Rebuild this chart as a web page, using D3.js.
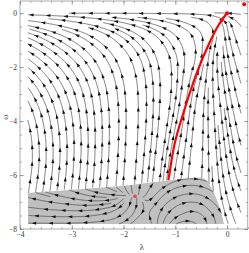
<!DOCTYPE html>
<html>
<head>
<meta charset="utf-8">
<script src="https://cdn.jsdelivr.net/npm/d3@7"></script>
<style>
  body { margin: 0; background: #fff; }
  svg { display: block; }
</style>
</head>
<body>
<div id="chart"></div>
<script>
// frame ranges and tick labels
const xDomain = [-4, 0.4];
const yDomain = [-8, 0.45];
const xMajor = [-4, -3, -2, -1, 0];
const yMajor = [0, -2, -4, -6, -8];

// region covered by the stream lines
const streamLam = [-3.85, 0.27];
const streamOm = [-7.82, 0.01];

// direction field: arrow angle as seen on the plot
// (degrees, 0 = right, 90 = up, 180 = left)
const fieldCols = [-3.85, -3.3, -2.8, -2.3, -1.8, -1.4, -1.0, -0.6, -0.3, 0, 0.3];
const fieldRows = [0, -0.5, -1, -2, -3, -4, -5, -6, -7, -7.8];
const fieldAngles = [
  [180, 180, 180, 180, 180, 180, 180, 180, 180, 178, 175],
  [168, 167, 166, 164, 162, 160, 157, 150, 120, 100, 125],
  [155, 152, 148, 143, 138, 133, 125, 105, 70, 100, 112],
  [140, 133, 124, 114, 106, 100, 92, 70, 88, 100, 108],
  [122, 114, 105, 98, 93, 90, 84, 78, 92, 100, 106],
  [105, 100, 95, 91, 89, 87, 78, 86, 92, 98, 105],
  [93, 91, 89, 88, 87, 84, 79, 86, 92, 98, 106],
  [82, 84, 85, 86, 86, 84, 82, 86, 92, 100, 110],
  [80, 82, 84, 85, 86, 84, 82, 88, 95, 105, 112],
  [80, 82, 84, 85, 86, 84, 82, 90, 98, 108, 114]
];

// direction field inside the shaded region
const grayCols = [-3.85, -3.3, -2.8, -2.3, -1.8, -1.3, -0.8, -0.4, 0];
const grayRows = [-6, -6.5, -7, -7.4, -7.82];
const grayAngles = [
  [150, 150, 148, 140, 95, 35, 6, 343, 300],
  [160, 160, 158, 163, 92, 40, 8, 338, 300],
  [168, 172, 175, 188, 265, 52, 12, 327, 303],
  [175, 178, 182, 195, 240, 66, 20, 311, 290],
  [180, 180, 182, 188, 215, 85, 0, 280, 274]
];

// outline of the shaded region
const grayLam = [-3.846, -2.030, -1.142, -0.620, -0.504, -0.427, -0.369, -0.292, -0.195, -0.118, -0.060, -3.846];
const grayOm = [-6.667, -6.408, -6.205, -6.112, -6.093, -6.149, -6.260, -6.520, -6.927, -7.354, -7.817, -7.817];

// highlighted trajectory
const redLam = [-1.134, -1.088, -1.024, -0.947, -0.767, -0.574, -0.348, -0.155, 0];
const redOm = [-6.19, -5.63, -4.89, -4.33, -3.22, -2.11, -1.11, -0.37, 0];

// marked points
const pointLam = [0, 0.33, -1.78];
const pointOm = [0, 0.33, -6.79];

const W = 249, H = 253;
const svg = d3.select("#chart").append("svg").attr("width", W).attr("height", H);

const x = d3.scaleLinear().domain(xDomain).range([20, 247.8]);
const y = d3.scaleLinear().domain(yDomain).range([229, 1]);

// bilinear interpolation of the angle table
function makeField(cols, rows, table) {
  return function(lam, om) {
    let i = d3.bisectRight(cols, lam) - 1;
    i = Math.max(0, Math.min(cols.length - 2, i));
    let j = 0;
    while (j < rows.length - 2 && om < rows[j + 1]) j++;
    const tx = Math.max(0, Math.min(1, (lam - cols[i]) / (cols[i + 1] - cols[i])));
    const ty = Math.max(0, Math.min(1, (om - rows[j]) / (rows[j + 1] - rows[j])));
    let u = 0, v = 0;
    [[j, i, (1 - tx) * (1 - ty)], [j, i + 1, tx * (1 - ty)], [j + 1, i, (1 - tx) * ty], [j + 1, i + 1, tx * ty]]
      .forEach(function(c) {
        const a = table[c[0]][c[1]] * Math.PI / 180;
        u += c[2] * Math.cos(a);
        v += c[2] * Math.sin(a);
      });
    return [u, v];
  };
}

function dirAt(field, p) {
  const f = field(x.invert(p[0]), y.invert(p[1]));
  const m = Math.hypot(f[0], f[1]);
  if (m < 0.2) return null;
  return [f[0] / m, -f[1] / m];
}

// evenly spaced stream lines
function streams(field, inside, dsep, dtest) {
  const grid = new Map();
  const key = (a, b) => a + "," + b;
  function near(p, d) {
    const cx = Math.floor(p[0] / dsep), cy = Math.floor(p[1] / dsep);
    for (let a = -1; a <= 1; a++) for (let b = -1; b <= 1; b++) {
      const list = grid.get(key(cx + a, cy + b));
      if (!list) continue;
      for (const q of list) if ((q[0] - p[0]) ** 2 + (q[1] - p[1]) ** 2 < d * d) return true;
    }
    return false;
  }
  function add(p) {
    const k = key(Math.floor(p[0] / dsep), Math.floor(p[1] / dsep));
    if (!grid.has(k)) grid.set(k, []);
    grid.get(k).push(p);
  }
  const h = 0.8;
  function advance(p, s) {
    const d1 = dirAt(field, p);
    if (!d1) return null;
    const m = [p[0] + 0.5 * h * s * d1[0], p[1] + 0.5 * h * s * d1[1]];
    const d2 = dirAt(field, m);
    if (!d2) return null;
    return [[p[0] + h * s * d2[0], p[1] + h * s * d2[1]], d2];
  }
  function run(seed, s) {
    const out = [];
    let p = seed, prev = null;
    for (let k = 0; k < 600; k++) {
      const r = advance(p, s);
      if (!r) break;
      if (prev && prev[0] * r[1][0] + prev[1] * r[1][1] < 0.6) break;
      if (!inside(r[0]) || near(r[0], dtest)) break;
      out.push(r[0]);
      p = r[0];
      prev = r[1];
    }
    return out;
  }
  const lines = [];
  function tryLine(seed) {
    if (!inside(seed) || near(seed, dsep)) return null;
    const f = run(seed, 1), b = run(seed, -1);
    const pts = b.reverse().concat([seed], f);
    if (pts.length * h < 9) return null;
    pts.forEach(add);
    lines.push(pts);
    return pts;
  }
  const queue = [];
  function spawn(pts) {
    for (let k = 1; k < pts.length - 1; k += 3) {
      const tx = pts[k + 1][0] - pts[k - 1][0], ty = pts[k + 1][1] - pts[k - 1][1];
      const m = Math.hypot(tx, ty) || 1;
      const nx = -ty / m, ny = tx / m;
      queue.push([pts[k][0] + dsep * nx, pts[k][1] + dsep * ny]);
      queue.push([pts[k][0] - dsep * nx, pts[k][1] - dsep * ny]);
    }
  }
  for (let py = y(streamOm[1]) + 2; py < y(streamOm[0]); py += dsep) {
    for (let px = x(streamLam[0]) + 2; px < x(streamLam[1]); px += dsep) {
      const l = tryLine([px, py]);
      if (l) spawn(l);
      while (queue.length) {
        const c = queue.shift();
        const l2 = tryLine(c);
        if (l2) spawn(l2);
      }
    }
  }
  return lines;
}

const grayPoly = grayLam.map((l, i) => [x(l), y(grayOm[i])]);
const outerInside = p => p[0] >= x(streamLam[0]) && p[0] <= x(streamLam[1]) &&
  p[1] >= y(streamOm[1]) && p[1] <= y(streamOm[0]) && !d3.polygonContains(grayPoly, p);
const grayInside = p => d3.polygonContains(grayPoly, p);

// shaded region
svg.append("path")
  .attr("d", d3.line()(grayPoly) + "Z")
  .attr("fill", "#c0c0c0");

const outerLines = streams(makeField(fieldCols, fieldRows, fieldAngles), outerInside, 7, 3.2);
const grayLines = streams(makeField(grayCols, grayRows, grayAngles), grayInside, 6.5, 3);
const allLines = outerLines.concat(grayLines);

const lineGen = d3.line().curve(d3.curveBasis);
svg.append("g")
  .selectAll("path")
  .data(allLines)
  .join("path")
  .attr("d", d => lineGen(d))
  .attr("fill", "none")
  .attr("stroke", "#444")
  .attr("stroke-width", 0.7);

function arrowHead(p, t, len, half) {
  const n = [-t[1], t[0]];
  const tip = [p[0] + t[0] * len * 0.5, p[1] + t[1] * len * 0.5];
  const bx = p[0] - t[0] * len * 0.5, by = p[1] - t[1] * len * 0.5;
  return "M" + tip + "L" + [bx + n[0] * half, by + n[1] * half] + "L" + [bx - n[0] * half, by - n[1] * half] + "Z";
}

// arrowheads along each line
const arrows = [];
allLines.forEach(function(pts, li) {
  const spacing = 17;
  let next = 6 + (li * 7) % 11, acc = 0;
  for (let k = 1; k < pts.length - 2; k++) {
    acc += Math.hypot(pts[k][0] - pts[k - 1][0], pts[k][1] - pts[k - 1][1]);
    if (acc >= next) {
      const tx = pts[k + 1][0] - pts[k - 1][0], ty = pts[k + 1][1] - pts[k - 1][1];
      const m = Math.hypot(tx, ty) || 1;
      arrows.push(arrowHead(pts[k], [tx / m, ty / m], 4.4, 1.5));
      next += spacing;
    }
  }
});
svg.append("g")
  .selectAll("path")
  .data(arrows)
  .join("path")
  .attr("d", d => d)
  .attr("fill", "#111");

// highlighted trajectory
const redPts = redLam.map((l, i) => [x(l), y(redOm[i])]);
svg.append("path")
  .attr("d", d3.line().curve(d3.curveBasis)(redPts))
  .attr("fill", "none")
  .attr("stroke", "#ff0000")
  .attr("stroke-width", 2.2);
{
  const a = redPts[redPts.length - 2], b = redPts[redPts.length - 1];
  const m = Math.hypot(b[0] - a[0], b[1] - a[1]);
  const p = [a[0] + (b[0] - a[0]) * 0.45, a[1] + (b[1] - a[1]) * 0.45];
  svg.append("path")
    .attr("d", arrowHead(p, [(b[0] - a[0]) / m, (b[1] - a[1]) / m], 6, 2.4))
    .attr("fill", "#ff0000");
}

svg.append("g")
  .selectAll("circle")
  .data(pointLam)
  .join("circle")
  .attr("cx", d => x(d))
  .attr("cy", (d, i) => y(pointOm[i]))
  .attr("r", (d, i) => i === 2 ? 1.8 : 2)
  .attr("fill", (d, i) => i === 2 ? "#e34848" : "#ff0000");

// frame and ticks
svg.append("rect")
  .attr("x", x(xDomain[0])).attr("y", y(yDomain[1]))
  .attr("width", x(xDomain[1]) - x(xDomain[0]))
  .attr("height", y(yDomain[0]) - y(yDomain[1]))
  .attr("fill", "none").attr("stroke", "#888").attr("stroke-width", 0.7);

function frameAxis(gen, tx, ty, values, size, labelled) {
  const g = svg.append("g").attr("transform", "translate(" + tx + "," + ty + ")")
    .call(gen.tickValues(values).tickSize(size).tickPadding(3)
      .tickFormat(labelled ? d3.format("") : () => ""));
  g.select(".domain").remove();
  g.selectAll("line").attr("stroke", "#777").attr("stroke-width", 0.6);
  g.selectAll("text")
    .attr("font-family", "Liberation Serif, serif")
    .attr("font-size", 7.5)
    .attr("fill", "#333");
}
const xMinor = d3.range(-4, 0.41, 0.2);
const yMinor = d3.range(-8, 0.46, 0.5);
frameAxis(d3.axisBottom(x), 0, y(yDomain[0]), xMajor, -4, true);
frameAxis(d3.axisBottom(x), 0, y(yDomain[0]), xMinor, -2, false);
frameAxis(d3.axisTop(x), 0, y(yDomain[1]), xMajor, -4, false);
frameAxis(d3.axisTop(x), 0, y(yDomain[1]), xMinor, -2, false);
frameAxis(d3.axisLeft(y), x(xDomain[0]), 0, yMajor, -4, true);
frameAxis(d3.axisLeft(y), x(xDomain[0]), 0, yMinor, -2, false);
frameAxis(d3.axisRight(y), x(xDomain[1]), 0, yMajor, -4, false);
frameAxis(d3.axisRight(y), x(xDomain[1]), 0, yMinor, -2, false);

svg.append("text")
  .attr("x", 142).attr("y", 250)
  .attr("text-anchor", "middle")
  .attr("font-family", "Liberation Serif, serif")
  .attr("font-size", 9)
  .attr("fill", "#333")
  .text("λ");
svg.append("text")
  .attr("transform", "translate(8,117) rotate(-90)")
  .attr("text-anchor", "middle")
  .attr("font-family", "Liberation Serif, serif")
  .attr("font-size", 8)
  .attr("fill", "#333")
  .text("ω");
</script>
</body>
</html>
